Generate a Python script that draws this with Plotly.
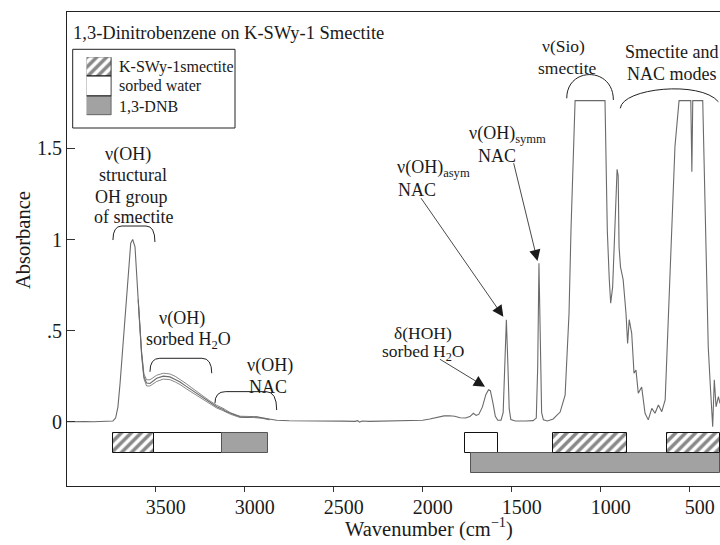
import plotly.graph_objects as go

# Mid-IR absorbance spectrum of 1,3-DNB sorbed on K-SWy-1 smectite
wavenumber = [
    4000, 3950, 3900, 3850, 3800, 3760, 3740, 3725, 3712, 3700, 3686, 3672, 3654, 3640, 3629,
    3616, 3598, 3579, 3566, 3551, 3532, 3512, 3494, 3457, 3420, 3390, 3363, 3330, 3300, 3250,
    3200, 3157, 3135, 3122, 3110, 3080, 3050, 3026, 2990, 2950, 2933, 2900, 2860, 2820, 2750,
    2650, 2550, 2450, 2380, 2365, 2355, 2340, 2300, 2200, 2100, 2050, 2000, 1960, 1920, 1880,
    1850, 1820, 1790, 1760, 1735, 1715, 1700, 1685, 1665, 1645, 1630, 1620, 1605, 1592, 1578,
    1560, 1548, 1538, 1530, 1522, 1514, 1505, 1480, 1420, 1380, 1362, 1354, 1347, 1340, 1332,
    1322, 1300, 1267, 1228, 1200, 1189, 1178, 1167, 1158, 1150, 1144, 976, 970, 963, 952,
    944, 933, 920, 908, 902, 897, 889, 874, 858, 849, 840, 826, 813, 802, 789,
    770, 751, 733, 713, 695, 676, 657, 638, 620, 601, 583, 560, 494, 488, 483,
    427, 420, 409, 396, 383, 371, 362, 352, 339, 330,
]
absorbance = [
    0.000, 0.002, 0.001, 0.000, 0.002, 0.001, 0.004, 0.020, 0.080, 0.210, 0.390, 0.576, 0.850, 0.980, 1.000,
    0.960, 0.668, 0.375, 0.247, 0.212, 0.210, 0.225, 0.238, 0.250, 0.246, 0.232, 0.218, 0.195, 0.175, 0.140,
    0.108, 0.082, 0.072, 0.068, 0.058, 0.045, 0.035, 0.027, 0.024, 0.026, 0.027, 0.020, 0.012, 0.008, 0.005,
    0.003, 0.002, 0.003, 0.002, 0.006, -0.002, 0.004, 0.002, 0.003, 0.004, 0.005, 0.008, 0.015, 0.025, 0.032,
    0.033, 0.030, 0.022, 0.020, 0.028, 0.046, 0.035, 0.040, 0.080, 0.150, 0.175, 0.170, 0.100, 0.030, 0.008,
    0.008, 0.050, 0.300, 0.560, 0.330, 0.070, 0.012, 0.004, 0.004, 0.006, 0.020, 0.300, 0.870, 0.350, 0.050,
    0.010, 0.004, 0.015, 0.053, 0.146, 0.338, 0.595, 1.052, 1.327, 1.640, 1.762, 1.762, 1.510, 1.050, 0.780,
    0.650, 0.740, 1.140, 1.385, 1.350, 0.960, 0.850, 0.780, 0.595, 0.430, 0.560, 0.485, 0.266, 0.284, 0.156,
    0.190, 0.046, 0.010, 0.073, 0.046, 0.092, 0.055, 0.120, 0.595, 1.052, 1.510, 1.762, 1.762, 1.372, 1.762,
    1.762, 1.418, 0.960, 0.410, 0.174, -0.027, 0.230, 0.082, 0.137, 0.100,
]

# replicate spectra, spreading apart over the OH stretching region
rep_wavenumber = [3598, 3579, 3566, 3551, 3532, 3512, 3494, 3457, 3420, 3390, 3363,
                  3330, 3300, 3250, 3200, 3157, 3122, 3080, 3026, 2950, 2900, 2860]
rep_abs_upper = [0.672, 0.385, 0.262, 0.230, 0.230, 0.244, 0.255, 0.266, 0.262, 0.249, 0.233,
                 0.210, 0.188, 0.151, 0.117, 0.090, 0.074, 0.049, 0.030, 0.028, 0.022, 0.013]
rep_abs_lower = [0.662, 0.364, 0.236, 0.196, 0.196, 0.210, 0.221, 0.234, 0.231, 0.218, 0.204,
                 0.182, 0.163, 0.130, 0.099, 0.075, 0.061, 0.041, 0.023, 0.023, 0.018, 0.010]

# band assignment ranges (cm^-1)
band_start = [3738, 3508, 3129, 1762, 1730, 1270, 626]
band_end = [3508, 3129, 2867, 1575, 332, 854, 332]
band_kind = ["smectite", "water", "dnb", "water", "dnb", "smectite", "smectite"]
band_row = [0, 0, 0, 0, 1, 0, 0]

legend_labels = ["K-SWy-1smectite", "sorbed water", "1,3-DNB"]

x_ticks = [3500, 3000, 2500, 2000, 1500, 1000, 500]
y_ticks = [0, 0.5, 1, 1.5]
y_tick_text = ["0", ".5", "1", "1.5"]

FONT = "Liberation Serif, Times New Roman, serif"
TXT = "#1a1a1a"
GRAY_FILL = "#a2a2a2"

row_center = [-0.115, -0.225]
row_height = 0.11

kind_style = {
    "smectite": dict(color="white", line=dict(color="#111", width=1),
                     pattern=dict(shape="/", fgcolor="#111", bgcolor="white", size=7, solidity=0.5)),
    "water": dict(color="white", line=dict(color="#111", width=1)),
    "dnb": dict(color=GRAY_FILL, line=dict(color="#555", width=1)),
}

fig = go.Figure()

for s, e, k, r in zip(band_start, band_end, band_kind, band_row):
    fig.add_trace(go.Bar(
        orientation="h", y=[row_center[r]], base=[s], x=[e - s], width=[row_height],
        marker=kind_style[k], showlegend=False, hoverinfo="skip",
    ))

# key swatches: stacked column on a small inset axis
for i, k in enumerate(["dnb", "water", "smectite"]):
    fig.add_trace(go.Bar(
        x=[0], y=[1], base=[i], width=[1], marker=kind_style[k],
        xaxis="x2", yaxis="y2", showlegend=False, hoverinfo="skip",
    ))

for yy in (rep_abs_upper, rep_abs_lower):
    fig.add_trace(go.Scatter(x=rep_wavenumber, y=yy, mode="lines",
                             line=dict(color="#7a7a7a", width=0.9), showlegend=False, hoverinfo="skip"))

fig.add_trace(go.Scatter(x=wavenumber, y=absorbance, mode="lines",
                         line=dict(color="#6a6a6a", width=1.1), showlegend=False))

# peak-group labels: (text, wavenumber, absorbance, font size)
labels = [
    ("ν(OH)", 3654, 1.464, 18), ("structural", 3626, 1.354, 18), ("OH group", 3635, 1.235, 18),
    ("of smectite", 3626, 1.125, 18),
    ("ν(OH)", 3354, 0.567, 18), ("sorbed H<sub>2</sub>O", 3317, 0.448, 18),
    ("ν(OH)", 2858, 0.311, 18), ("NAC", 2867, 0.192, 18),
    ("δ(HOH)", 1997, 0.488, 17.5), ("sorbed H<sub>2</sub>O", 1997, 0.382, 17.5),
    ("ν(OH)<sub>asym</sub>", 1937, 1.392, 18), ("NAC", 2034, 1.272, 18),
    ("ν(OH)<sub>symm</sub>", 1521, 1.574, 18), ("NAC", 1584, 1.458, 18),
    ("ν(Sio)", 1210, 2.060, 17.5), ("smectite", 1187, 1.940, 17.5),
    ("Smectite and", 601, 2.027, 18), ("NAC modes", 601, 1.908, 18),
]
for t, xx, yy, fs in labels:
    fig.add_annotation(x=xx, y=yy, text=t, showarrow=False, xanchor="center", yanchor="middle",
                       font=dict(family=FONT, size=fs, color=TXT))

# pointer arrows (tail -> head)
arrows = [
    (1912, 0.348, 1650, 0.192),
    (2015, 1.235, 1547, 0.576),
    (1491, 1.427, 1355, 0.882),
]
for ax_, ay_, hx, hy in arrows:
    fig.add_annotation(x=hx, y=hy, ax=ax_, ay=ay_, axref="x", ayref="y", xref="x", yref="y",
                       text="", showarrow=True, arrowhead=2, arrowsize=2.8, arrowwidth=0.8,
                       arrowcolor="#1a1a1a", standoff=0)

# arch brackets over peak groups: (left cm, right cm, left end y, right end y, top y, corner cm)
def arch(xl, xr, yl, yr, yt, d):
    return (f"M{xl},{yl} Q{xl},{yt} {xl - d},{yt} L{xr + d},{yt} Q{xr},{yt} {xr},{yr}")

brackets = [
    (3740, 3504, 0.997, 0.986, 1.074, 50),
    (3532, 3185, 0.274, 0.266, 0.348, 55),
    (3167, 2820, 0.101, 0.064, 0.165, 60),
]
for b in brackets:
    fig.add_shape(type="path", xref="x", yref="y", path=arch(*b), line=dict(color="#222", width=1))

fig.add_shape(type="path", xref="x", yref="y",
              path="M1191,1.775 C1191,1.95 929,1.95 929,1.766", line=dict(color="#222", width=1))
fig.add_shape(type="path", xref="x", yref="y",
              path="M890,1.72 C879,1.831 441,1.875 339,1.756", line=dict(color="#222", width=1))

W, H = 720, 545
L, R, T, B = 67, 0, 12, 59
pw, ph = W - L - R, H - T - B


def px(xp):
    return (xp - L) / pw


def py(yp):
    return (H - B - yp) / ph


# chart title and key box
fig.add_annotation(xref="paper", yref="paper", x=px(71), y=py(33), xanchor="left", yanchor="middle",
                   text="1,3-Dinitrobenzene on K-SWy-1 Smectite", showarrow=False,
                   font=dict(family=FONT, size=18.5, color=TXT))
fig.add_shape(type="rect", xref="paper", yref="paper", x0=px(72.7), x1=px(235), y0=py(128), y1=py(49.3),
              line=dict(color="#222", width=1), fillcolor="rgba(0,0,0,0)")
for t, yc in zip(legend_labels, [66.7, 85, 106]):
    fig.add_annotation(xref="paper", yref="paper", x=px(117), y=py(yc), xanchor="left", yanchor="middle",
                       text=t, showarrow=False, font=dict(family=FONT, size=16, color=TXT))

# axis titles
fig.add_annotation(xref="paper", yref="paper", x=px(23), y=py(240), text="Absorbance", textangle=-90,
                   showarrow=False, xanchor="center", yanchor="middle",
                   font=dict(family=FONT, size=20.5, color=TXT))
fig.add_annotation(xref="paper", yref="paper", x=px(429), y=py(527), text="Wavenumber (cm<sup>−1</sup>)",
                   showarrow=False, xanchor="center", yanchor="middle",
                   font=dict(family=FONT, size=20.5, color=TXT))

fig.update_layout(
    width=W, height=H, margin=dict(l=L, r=R, t=T, b=B),
    paper_bgcolor="white", plot_bgcolor="white", barmode="overlay", bargap=0,
    font=dict(family=FONT, color=TXT),
    xaxis=dict(range=[3998, 330], tickvals=x_ticks, ticks="outside", ticklen=5, tickcolor="#333",
               showline=True, linecolor="#222", linewidth=1, mirror=True, showgrid=False, zeroline=False,
               tickfont=dict(family=FONT, size=20, color=TXT), ticklabelshift=-10, ticklabelstandoff=-2),
    yaxis=dict(range=[-0.3529, 2.2486], tickvals=y_ticks, ticktext=y_tick_text, ticks="inside", ticklen=8,
               tickcolor="#333", showline=True, linecolor="#222", linewidth=1, showgrid=False, zeroline=False,
               tickfont=dict(family=FONT, size=20, color=TXT)),
    xaxis2=dict(domain=[px(86.7), px(111.7)], range=[-0.5, 0.5], visible=False, anchor="y2"),
    yaxis2=dict(domain=[py(115.5), py(57.3)], range=[0, 3], visible=False, anchor="x2"),
)

fig.write_html("out.html")
